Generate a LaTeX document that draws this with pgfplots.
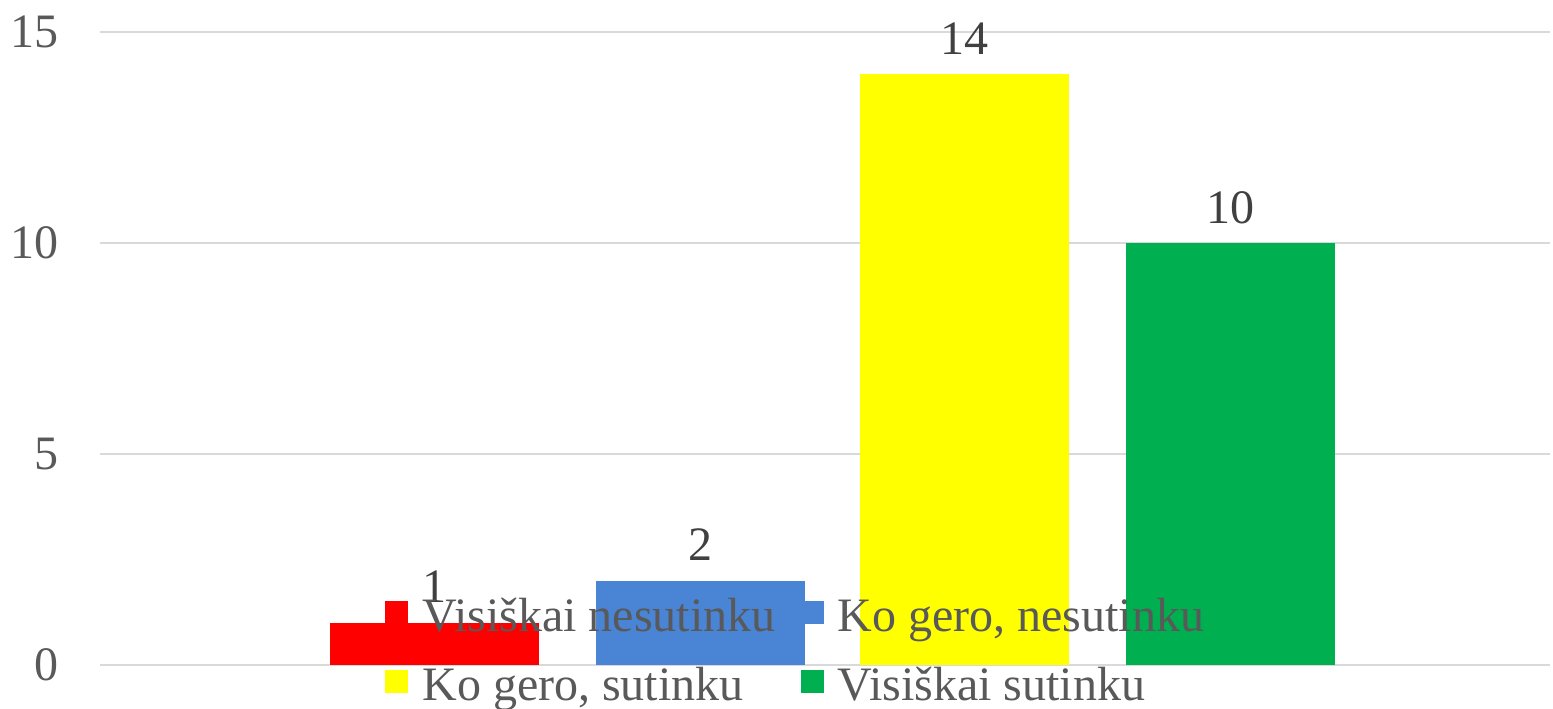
\documentclass[border=0pt]{standalone}
\usepackage{fontspec}
\setmainfont{Liberation Serif}
\usepackage{pgfplots}
\pgfplotsset{compat=1.18}
\definecolor{cred}{HTML}{FF0000}
\definecolor{cblue}{HTML}{4A84D4}
\definecolor{cyellow}{HTML}{FFFF00}
\definecolor{cgreen}{HTML}{00B050}
\definecolor{gridc}{HTML}{D9D9D9}
\definecolor{txt}{HTML}{595959}
\definecolor{lbl}{HTML}{404040}
\begin{document}
\begin{tikzpicture}
\useasboundingbox (-50pt,-21.5pt) rectangle (726.5pt,332.5pt);
\begin{axis}[
  scale only axis, width=725pt, height=316.5pt,
  xmin=100, xmax=1550, ymin=0, ymax=15,
  ytick={0,5,10,15}, xtick=\empty,
  ymajorgrids, grid style={gridc, line width=0.75pt},
  axis line style={draw=none}, major tick style={draw=none},
  font=\fontsize{24pt}{29pt}\selectfont,
  /pgf/number format/assume math mode=true,
  yticklabel style={text=txt, inner sep=0pt, xshift=-20.5pt},
  ybar, bar width=209, bar shift=0pt,
  nodes near coords,
  every node near coord/.append style={anchor=base, yshift=10pt, text=lbl, inner sep=0pt},
  legend image code/.code={\fill[#1] (0pt,3.5pt) rectangle (11.5pt,15pt);},
  legend columns=2,
  legend style={draw=none, fill=none, inner sep=0pt, text=txt,
    at={(axis cs:385,1.611)}, anchor=north west,
    nodes={inner sep=0pt, text height=17pt, text depth=6pt, anchor=base west},
    row sep=11.5pt,
    /tikz/every odd column/.append style={column sep=7pt},
    /tikz/every even column/.append style={column sep=12.5pt}},
]
\addplot[fill=cred, draw=none] coordinates {(434.5,1)};
\addlegendentry{Visiškai nesutinku}
\addplot[fill=cblue, draw=none] coordinates {(700,2)};
\addlegendentry{Ko gero, nesutinku}
\addplot[fill=cyellow, draw=none] coordinates {(964.5,14)};
\addlegendentry{Ko gero, sutinku}
\addplot[fill=cgreen, draw=none] coordinates {(1230.5,10)};
\addlegendentry{Visiškai sutinku}
\end{axis}
\end{tikzpicture}
\end{document}
